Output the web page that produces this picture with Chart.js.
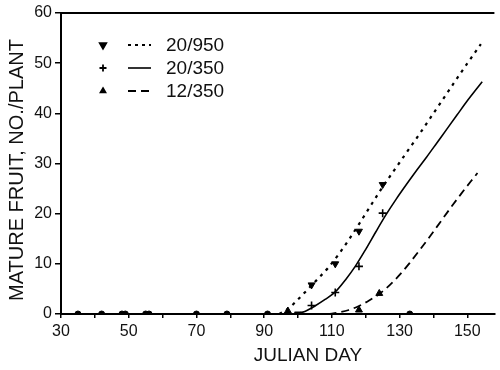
<!DOCTYPE html>
<html><head><meta charset="utf-8">
<script src="https://cdn.jsdelivr.net/npm/chart.js@4.4.1/dist/chart.umd.min.js"></script>
<style>html,body{margin:0;padding:0;background:#fff}#wrap{width:500px;height:370px}</style>
</head><body><div id="wrap"><canvas id="c" width="500" height="370"></canvas></div>
<script>
// ---- data ----
const seriesLabels = ['20/950', '20/350', '12/350'];
const xTickLabels = [30, 50, 70, 90, 110, 130, 150];
const yTickLabels = [0, 10, 20, 30, 40, 50, 60];
const xAxisTitle = 'JULIAN DAY';
const yAxisTitle = 'MATURE FRUIT, NO./PLANT';

// observed points lying on zero (all treatments overlap)
const zeroDays = [35, 42, 48, 49, 55, 56, 70, 79, 91, 133];

// observed points
const obs950Days = [100, 104, 111, 118, 125];
const obs950Vals = [0, 5.8, 10, 16.5, 25.8];
const obs350Days = [104, 111, 118, 125];
const obs350Vals = [1.7, 4.3, 9.5, 20.1];
const obs12Days = [97, 118, 124];
const obs12Vals = [0.6, 0.8, 4.1];

// fitted curves
const fit950Days = [94.5, 97, 100, 103, 106, 109, 112, 115, 118, 121, 124, 127, 130, 133, 136, 139, 142, 145, 148, 151, 154];
const fit950Vals = [0, 1.0, 2.9, 5.0, 7.1, 9.3, 11.9, 14.8, 17.9, 21.1, 24.3, 27.3, 30.2, 33.1, 36.0, 39.0, 42.0, 45.0, 48.0, 50.9, 53.8];
const fit350Days = [99, 102, 105, 108, 111, 114, 117, 120, 123, 126, 129, 132, 135, 138, 141, 144, 147, 150, 154.4];
const fit350Vals = [0, 0.5, 1.6, 2.9, 4.4, 6.8, 9.6, 12.9, 16.4, 19.8, 22.9, 25.8, 28.6, 31.3, 34.1, 36.9, 39.7, 42.5, 46.3];
const fit12Days = [109, 112, 115, 118, 121, 124, 127, 130, 133, 136, 139, 142, 145, 148, 151, 153];
const fit12Vals = [0, 0.3, 0.8, 1.6, 2.7, 4.0, 5.7, 7.8, 10.2, 12.8, 15.5, 18.3, 21.1, 23.8, 26.4, 28.1];

const FONT = '"Liberation Sans", Arial, Helvetica, sans-serif';
const pts = (xs, ys) => xs.map((x, i) => ({x: x, y: ys[i]}));

const legendItems = [
  {label: seriesLabels[0], style: 'triangle', rot: 180, r: 3.5, dash: [3, 4], w: 1.8},
  {label: seriesLabels[1], style: 'cross', rot: 0, r: 3.5, dash: [], w: 1.6},
  {label: seriesLabels[2], style: 'triangle', rot: 0, r: 3, dash: [8, 5], w: 1.8}
];

const framePlugin = {
  id: 'frame',
  afterDraw(chart) {
    const {ctx, chartArea: a} = chart;
    ctx.save();
    ctx.strokeStyle = '#000';
    ctx.lineWidth = 2;
    ctx.beginPath(); ctx.moveTo(a.left, a.top); ctx.lineTo(a.right, a.top); ctx.stroke();
    const rows = [45, 68, 91];
    legendItems.forEach((it, i) => {
      const y = rows[i];
      ctx.fillStyle = '#000';
      ctx.strokeStyle = '#000';
      Chart.helpers.drawPoint(ctx, {pointStyle: it.style, radius: it.r, rotation: it.rot, borderWidth: 1.3}, 103, y);
      ctx.lineWidth = it.w;
      ctx.setLineDash(it.dash);
      ctx.beginPath(); ctx.moveTo(128, y); ctx.lineTo(151, y); ctx.stroke();
      ctx.setLineDash([]);
      ctx.font = '19px ' + FONT;
      ctx.textBaseline = 'middle';
      ctx.textAlign = 'left';
      ctx.fillStyle = '#111';
      ctx.fillText(it.label, 166, y + 1);
    });
    ctx.fillStyle = '#111';
    ctx.font = '19px ' + FONT;
    ctx.textAlign = 'center';
    ctx.textBaseline = 'middle';
    ctx.fillText(xAxisTitle, 308, 356);
    ctx.save();
    ctx.translate(17, 170);
    ctx.rotate(-Math.PI / 2);
    ctx.font = '20px ' + FONT;
    ctx.fillText(yAxisTitle, 0, 0);
    ctx.restore();
    ctx.restore();
  }
};

Chart.defaults.font.family = FONT;

const blk = '#000';
new Chart(document.getElementById('c'), {
  type: 'scatter',
  data: {
    datasets: [
      {label: seriesLabels[0] + ' fit', type: 'line', data: pts(fit950Days, fit950Vals), borderColor: blk, borderWidth: 2.2, borderDash: [3, 5], pointRadius: 0, cubicInterpolationMode: 'monotone', fill: false},
      {label: seriesLabels[1] + ' fit', type: 'line', data: pts(fit350Days, fit350Vals), borderColor: blk, borderWidth: 1.6, pointRadius: 0, cubicInterpolationMode: 'monotone', fill: false},
      {label: seriesLabels[2] + ' fit', type: 'line', data: pts(fit12Days, fit12Vals), borderColor: blk, borderWidth: 1.8, borderDash: [8, 5], pointRadius: 0, cubicInterpolationMode: 'monotone', fill: false},
      {label: 'zero', data: pts(zeroDays, zeroDays.map(() => 0)), pointStyle: 'circle', pointRadius: 3, backgroundColor: blk, borderColor: blk},
      {label: seriesLabels[0], data: pts(obs950Days, obs950Vals), pointStyle: 'triangle', rotation: 180, pointRadius: 4, backgroundColor: blk, borderColor: blk, borderWidth: 1},
      {label: seriesLabels[1], data: pts(obs350Days, obs350Vals), pointStyle: 'cross', pointRadius: 4, backgroundColor: blk, borderColor: blk, borderWidth: 1.6},
      {label: seriesLabels[2], data: pts(obs12Days, obs12Vals), pointStyle: 'triangle', pointRadius: 4, backgroundColor: blk, borderColor: blk, borderWidth: 1}
    ]
  },
  options: {
    responsive: false,
    animation: false,
    layout: {padding: {top: 13, right: 0, left: 0, bottom: 0}},
    plugins: {legend: {display: false}, tooltip: {enabled: false}},
    scales: {
      x: {
        type: 'linear', min: 30, max: 158,
        afterBuildTicks: s => { const t = []; for (let v = 30; v <= 150; v += 10) t.push({value: v}); s.ticks = t; },
        afterFit: s => { s.height = 56; },
        ticks: {
          autoSkip: false, maxRotation: 0, padding: 4, color: '#111',
          font: {size: 16, family: FONT},
          callback: v => xTickLabels.includes(v) ? String(v) : ''
        },
        grid: {drawOnChartArea: false, drawTicks: true, tickLength: 4, color: blk, lineWidth: 1.5},
        border: {display: true, color: blk, width: 2}
      },
      y: {
        min: 0, max: 60,
        afterBuildTicks: s => { s.ticks = yTickLabels.map(v => ({value: v})); },
        afterFit: s => { s.width = 61; },
        ticks: {padding: 3, color: '#111', font: {size: 16, family: FONT}},
        grid: {drawOnChartArea: false, drawTicks: true, tickLength: 6, color: blk, lineWidth: 1.5},
        border: {display: true, color: blk, width: 2}
      }
    }
  },
  plugins: [framePlugin]
});
</script>
</body></html>
